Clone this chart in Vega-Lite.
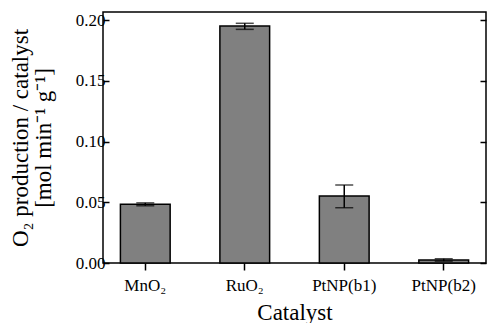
{
  "$schema": "https://vega.github.io/schema/vega-lite/v6.json",
  "width": 383,
  "height": 251,
  "autosize": {"type": "none"},
  "padding": {"left": 103, "top": 12, "right": 2, "bottom": 60},
  "background": "white",
  "config": {
    "font": "Liberation Serif",
    "view": {"stroke": "black", "strokeWidth": 1.5},
    "axis": {"labelColor": "black", "titleColor": "black", "tickColor": "black", "titleFontWeight": "normal", "labelFont": "Liberation Serif", "titleFont": "Liberation Serif"}
  },
  "data": {
    "values": [
      {"cat": "MnO₂", "v": 0.0483, "lo": 0.0471, "hi": 0.0495},
      {"cat": "RuO₂", "v": 0.195, "lo": 0.1923, "hi": 0.1973},
      {"cat": "PtNP(b1)", "v": 0.0551, "lo": 0.0455, "hi": 0.0642},
      {"cat": "PtNP(b2)", "v": 0.0025, "lo": 0.0015, "hi": 0.0035}
    ]
  },
  "encoding": {
    "x": {
      "field": "cat", "type": "nominal", "sort": null,
      "scale": {"paddingInner": 0.5, "paddingOuter": 0.175},
      "axis": {"title": "Catalyst", "titleFontSize": 23, "labelFontSize": 17, "labelAngle": 0, "tickSize": 7, "tickWidth": 1.5, "domain": false, "labelPadding": 7, "titlePadding": 8}
    }
  },
  "layer": [
    {
      "mark": {"type": "bar", "fill": "#808080", "stroke": "black", "strokeWidth": 1.5},
      "encoding": {
        "y": {
          "field": "v", "type": "quantitative",
          "scale": {"domain": [0, 0.2066], "nice": false, "zero": true},
          "axis": {
            "title": ["O₂ production / catalyst", "[mol min⁻¹ g⁻¹]"],
            "titleFontSize": 23, "titleLineHeight": 23,
            "titleBaseline": "alphabetic", "titleX": -76, "titleY": 125.5,
            "labelFontSize": 17, "format": ".2f",
            "values": [0, 0.05, 0.1, 0.15, 0.2],
            "tickSize": -6, "tickWidth": 1.5, "domain": false, "grid": false,
            "labelPadding": 4
          }
        }
      }
    },
    {
      "mark": {"type": "rule", "color": "black", "strokeWidth": 1.5},
      "encoding": {
        "y": {"field": "lo", "type": "quantitative", "axis": null},
        "y2": {"field": "hi"}
      }
    },
    {
      "mark": {"type": "tick", "color": "black", "size": 18, "thickness": 1.5},
      "encoding": {
        "y": {"field": "lo", "type": "quantitative", "axis": null}
      }
    },
    {
      "mark": {"type": "tick", "color": "black", "size": 18, "thickness": 1.5},
      "encoding": {
        "y": {
          "field": "hi", "type": "quantitative",
          "axis": {"orient": "right", "title": null, "labels": false, "values": [0, 0.05, 0.1, 0.15, 0.2], "tickSize": -6, "tickWidth": 1.5, "domain": false, "grid": false}
        }
      }
    }
  ],
  "resolve": {"axis": {"y": "independent"}}
}
